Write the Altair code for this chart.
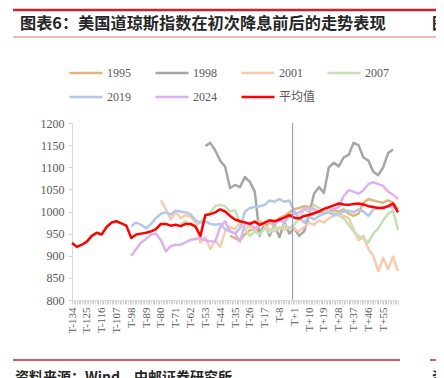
import altair as alt
import pandas as pd

# ---------------- data ----------------
SERIES = ["1995", "1998", "2001", "2007", "2019", "2024", "平均值"]
COLORS = ["#DDB57D", "#A6A6A6", "#F8CBAD", "#C5E0B4", "#B4C7E7", "#DDB0F0", "#FF0000"]
WIDTHS = [2.5, 2.5, 2.5, 2.5, 2.5, 2.5, 4.5]

STEP = 3
T_MIN, T_MAX = -134, 64
LAST_LABEL = 55

START = {"1995": -38, "1998": -53, "2001": -80, "2007": -68,
         "2019": -98, "2024": -98, "平均值": -134}

V1995 = [945, 940, 935, 948, 958, 960, 955, 965, 975, 970,
         985, 990, 998, 1005, 1008, 1012, 1010, 1005, 1000, 998,
         1000, 1003, 1000, 1005, 995, 990, 995, 1020, 1028, 1025,
         1022, 1020, 1025, 1020, 1005]
V1998 = [1148, 1155, 1138, 1115, 1101, 1053, 1060, 1055, 1078, 1067,
         1045, 945, 972, 945, 970, 942, 975, 950, 962, 945,
         955, 992, 1040, 1055, 1042, 1100, 1110, 1102, 1122, 1128,
         1155, 1150, 1122, 1115, 1090, 1082, 1100, 1132, 1140]
V2001 = [1025, 1005, 982, 1000, 985, 992, 988, 975, 930, 942,
         915, 935, 920, 955, 965, 960, 975, 960, 968, 958,
         980, 968, 960, 955, 965, 958, 965, 960, 955, 965,
         975, 970, 980, 975, 985, 990, 995, 990, 985, 960,
         935, 945, 915, 900, 865, 895, 870, 898, 866]
V2007 = [972, 978, 970, 968, 975, 990, 998, 1012, 1015, 1012,
         1000, 1003, 975, 960, 945, 955, 948, 962, 952, 965,
         960, 970, 962, 970, 985, 1005, 1000, 1015, 1008, 1002,
         1000, 995, 990, 985, 970, 955, 945, 938, 930, 950,
         962, 980, 995, 1002, 958]
V2019 = [967, 975, 970, 962, 972, 985, 995, 998, 993, 1002,
         1000, 998, 994, 980, 975, 978, 972, 970, 972, 960,
         955, 950, 962, 1000, 1008, 1010, 1012, 1015, 1025, 1022,
         1028, 1022, 1025, 1000, 985, 975, 988, 982, 990, 995,
         998, 992, 996, 1000, 1002, 998, 1005, 1000, 990, 1005,
         1008, 1010, 1012, 1008]
V2024 = [900, 915, 930, 938, 948, 950, 935, 910, 922, 925,
         925, 930, 936, 938, 940, 935, 933, 932, 965, 978,
         955, 950, 932, 972, 975, 962, 968, 975, 978, 972,
         980, 975, 990, 995, 998, 1005, 1008, 1005, 1000, 1005,
         1008, 1005, 1010, 1035, 1048, 1045, 1040, 1048, 1062, 1066,
         1062, 1058, 1045, 1038, 1028]
VMEAN = [929, 920, 925, 932, 945, 952, 948, 965, 975, 978,
         973, 968, 940, 948, 950, 952, 955, 960, 972, 972,
         968, 970, 967, 972, 972, 966, 945, 992, 994, 998,
         1005, 1000, 990, 982, 978, 975, 972, 977, 970, 975,
         980, 978, 982, 986, 992, 986, 984, 990, 992, 996,
         1000, 1006, 1010, 1014, 1018, 1016, 1015, 1017, 1018, 1016,
         1012, 1010, 1008, 1008, 1012, 1018, 998]

VALUES = {"1995": V1995, "1998": V1998, "2001": V2001, "2007": V2007,
          "2019": V2019, "2024": V2024, "平均值": VMEAN}

Y_TICKS = list(range(800, 1201, 50))
EVENT_T = [0]

TITLE = "图表6：美国道琼斯指数在初次降息前后的走势表现"
SOURCE = "资料来源：Wind，中邮证券研究所"
RIGHT_TITLE = "图"
RIGHT_SOURCE = "资"

rows = []
for s in SERIES:
    for i, v in enumerate(VALUES[s]):
        rows.append({"series": s, "t": START[s] + STEP * i, "v": v})
df = pd.DataFrame(rows)

SERIF = "Liberation Serif, Noto Sans CJK SC"
CJK = "Noto Sans CJK SC"
GREY = "#595959"

label_expr = ("((datum.value - (%d)) %% 9 == 0 && datum.value <= %d) ? "
              "(datum.value < 0 ? 'T' + datum.value : 'T+' + datum.value) : ''"
              % (T_MIN, LAST_LABEL))

x_axis = alt.Axis(values=list(range(T_MIN, T_MAX + 1)), labelExpr=label_expr,
                  labelAngle=-90, labelOverlap=False, labelBound=False, labelFlush=False,
                  tickSize=4, tickColor="#D0D0D0", domainColor="#D9D9D9",
                  grid=False, title=None, labelFont=SERIF, labelFontSize=11,
                  labelColor=GREY, labelPadding=3)
x_scale = alt.Scale(domain=[T_MIN, T_MAX], nice=False, zero=False)
x_enc = alt.X("t:Q", scale=x_scale, axis=x_axis)
y_enc = alt.Y("v:Q",
              scale=alt.Scale(domain=[800, 1200], nice=False, zero=False),
              axis=alt.Axis(values=Y_TICKS, format="d", grid=False, domainColor="#D9D9D9",
                            tickColor="#D9D9D9", tickSize=4, labelFont=SERIF,
                            labelFontSize=12, labelColor=GREY, title=None, labelPadding=4))

leg = alt.Legend(title=None, orient="none", legendX=-4, legendY=-68, columns=4,
                 direction="horizontal",
                 gridAlign="all", symbolType="stroke", symbolSize=1089,
                 labelFont=SERIF, labelFontSize=12, labelColor=GREY,
                 labelOffset=3, columnPadding=6, rowPadding=-1, padding=0)

lines = alt.Chart(df).mark_line(strokeJoin="round").encode(
    x=x_enc, y=y_enc,
    color=alt.Color("series:N", scale=alt.Scale(domain=SERIES, range=COLORS), legend=leg),
    strokeWidth=alt.StrokeWidth("series:N", scale=alt.Scale(domain=SERIES, range=WIDTHS), legend=leg),
)

rule = alt.Chart(pd.DataFrame({"t": EVENT_T})).mark_rule(color="#8497B0", strokeWidth=1).encode(
    x=alt.X("t:Q", scale=x_scale, axis=x_axis))

one = pd.DataFrame({"a": [0]})
top_line = alt.Chart(one).mark_rule(color="#D0202A", strokeWidth=2.5).encode(
    x=alt.value(-59), x2=alt.value(372), y=alt.value(-113))
sub_line = alt.Chart(one).mark_rule(color="#E8A3A3", strokeWidth=1.5).encode(
    x=alt.value(-59), x2=alt.value(372), y=alt.value(-86))
foot_line1 = alt.Chart(one).mark_rule(color="#D0202A", strokeWidth=1.5).encode(
    x=alt.value(-59), x2=alt.value(328), y=alt.value(237))
foot_line2 = alt.Chart(one).mark_rule(color="#D0202A", strokeWidth=1.5).encode(
    x=alt.value(358), x2=alt.value(372), y=alt.value(237))

texts = pd.DataFrame({"text": [TITLE, RIGHT_TITLE, SOURCE, RIGHT_SOURCE]})
title_t = alt.Chart(texts).transform_filter(alt.datum.text == TITLE).mark_text(
    align="left", baseline="alphabetic", font=CJK, fontWeight="bold", fontSize=16.2,
    color="#262626").encode(x=alt.value(-52), y=alt.value(-94), text="text:N")
rtitle_t = alt.Chart(texts).transform_filter(alt.datum.text == RIGHT_TITLE).mark_text(
    align="left", baseline="alphabetic", font=CJK, fontWeight="bold", fontSize=16.2,
    color="#262626").encode(x=alt.value(360), y=alt.value(-94), text="text:N")
src_t = alt.Chart(texts).transform_filter(alt.datum.text == SOURCE).mark_text(
    align="left", baseline="alphabetic", font=CJK, fontWeight="bold", fontSize=14,
    color="#262626").encode(x=alt.value(-57), y=alt.value(259), text="text:N")
rsrc_t = alt.Chart(texts).transform_filter(alt.datum.text == RIGHT_SOURCE).mark_text(
    align="left", baseline="alphabetic", font=CJK, fontWeight="bold", fontSize=14,
    color="#262626").encode(x=alt.value(360), y=alt.value(259), text="text:N")

chart = alt.layer(
    lines, rule, top_line, sub_line, foot_line1, foot_line2,
    title_t, rtitle_t, src_t, rsrc_t
).properties(
    width=326, height=177,
    autosize=alt.AutoSizeParams(type="none"),
    padding={"left": 64, "top": 115, "right": 38, "bottom": 80},
    background="white",
).configure_view(stroke=None)

chart.save("out.html", embed_options={"renderer": "svg", "actions": False})
